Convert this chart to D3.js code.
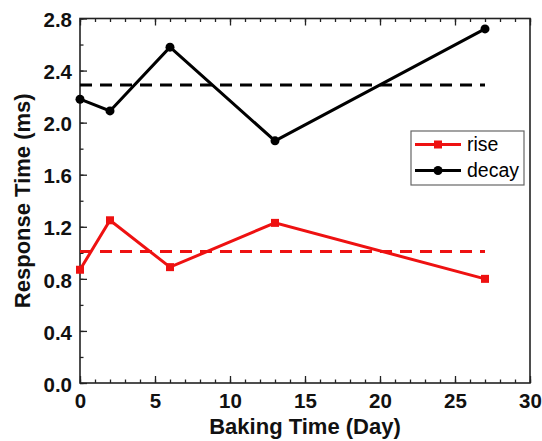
<!doctype html>
<html lang="en">
<head>
<meta charset="utf-8">
<script src="https://d3js.org/d3.v7.min.js"></script>
<style>
  body { margin: 0; background: #fff; }
  svg text { font-family: "Liberation Sans", Arial, sans-serif; }
</style>
</head>
<body>
<div id="chart"></div>
<script>
    // data
    var days = [0, 2, 6, 13, 27];
    var rise = [0.87, 1.25, 0.89, 1.23, 0.80];
    var decay = [2.18, 2.09, 2.58, 1.86, 2.72];
    var riseAvg = 1.01;
    var decayAvg = 2.29;
    var xTicks = [0, 5, 10, 15, 20, 25, 30];
    var yTicks = [0.0, 0.4, 0.8, 1.2, 1.6, 2.0, 2.4, 2.8];

    var width = 542, height = 441;
    var margin = { top: 18.5, right: 12, bottom: 58, left: 80 };
    var w = width - margin.left - margin.right,
        h = height - margin.top - margin.bottom;

    var svg = d3.select('#chart').append('svg')
        .attr('width', width).attr('height', height);
    var g = svg.append('g')
        .attr('transform', 'translate(' + margin.left + ',' + margin.top + ')');

    var x = d3.scaleLinear().domain([0, 30]).range([0, w]);
    var y = d3.scaleLinear().domain([0, 2.8]).range([h, 0]);

    // minor ticks (inward)
    var xMinor = d3.range(0, 31, 1);
    var yMinor = d3.range(0, 2.81, 0.2);

    g.append('g').attr('transform', 'translate(0,' + h + ')')
        .call(d3.axisBottom(x).tickValues(xMinor).tickSize(-3.5).tickFormat(''))
        .call(a => a.select('.domain').remove());
    g.append('g')
        .call(d3.axisTop(x).tickValues(xMinor).tickSize(-3.5).tickFormat(''))
        .call(a => a.select('.domain').remove());
    g.append('g')
        .call(d3.axisLeft(y).tickValues(yMinor).tickSize(-3.5).tickFormat(''))
        .call(a => a.select('.domain').remove());

    // major ticks + labels
    var xAxis = g.append('g').attr('transform', 'translate(0,' + h + ')')
        .call(d3.axisBottom(x).tickValues(xTicks).tickSize(-7).tickPadding(10).tickFormat(d3.format('d')));
    xAxis.select('.domain').remove();
    g.append('g')
        .call(d3.axisTop(x).tickValues(xTicks).tickSize(-7).tickFormat(''))
        .call(a => a.select('.domain').remove());
    var yAxis = g.append('g')
        .call(d3.axisLeft(y).tickValues(yTicks).tickSize(-7).tickPadding(8).tickFormat(d3.format('.1f')));
    yAxis.select('.domain').remove();

    g.selectAll('.tick line').attr('stroke', '#222').attr('stroke-width', 1.3);
    g.selectAll('.tick text')
        .attr('font-size', 20.5).attr('font-weight', 'bold').attr('fill', '#111')
        .attr('font-family', '"Liberation Sans", Arial, sans-serif');
    yAxis.selectAll('.tick text').attr('dy', '0.4em');

    // frame
    g.append('rect').attr('x', 0).attr('y', 0).attr('width', w).attr('height', h)
        .attr('fill', 'none').attr('stroke', '#222').attr('stroke-width', 1.6);

    // average dashed lines
    var avg = [[riseAvg, '#ee1111'], [decayAvg, '#000']];
    avg.forEach(function (a) {
        g.append('line')
            .attr('x1', x(0)).attr('x2', x(27))
            .attr('y1', y(a[0])).attr('y2', y(a[0]))
            .attr('stroke', a[1]).attr('stroke-width', 3)
            .attr('stroke-dasharray', '12,8');
    });

    var line = d3.line().x(d => x(d[0])).y(d => y(d[1]));
    var riseData = days.map((d, i) => [d, rise[i]]);
    var decayData = days.map((d, i) => [d, decay[i]]);

    g.append('path').datum(riseData).attr('d', line)
        .attr('fill', 'none').attr('stroke', '#ee1111').attr('stroke-width', 3);
    g.selectAll('.rsq').data(riseData).join('rect').attr('class', 'rsq')
        .attr('x', d => x(d[0]) - 4).attr('y', d => y(d[1]) - 4)
        .attr('width', 8).attr('height', 8).attr('fill', '#ee1111');

    g.append('path').datum(decayData).attr('d', line)
        .attr('fill', 'none').attr('stroke', '#000').attr('stroke-width', 3);
    g.selectAll('.dcir').data(decayData).join('circle').attr('class', 'dcir')
        .attr('cx', d => x(d[0])).attr('cy', d => y(d[1]))
        .attr('r', 4.5).attr('fill', '#000');

    // legend
    var leg = svg.append('g').attr('transform', 'translate(411,131)');
    leg.append('rect').attr('width', 113).attr('height', 54)
        .attr('fill', '#fff').attr('stroke', '#666').attr('stroke-width', 1.2);
    var items = [['rise', '#ee1111', 'sq'], ['decay', '#000', 'c']];
    items.forEach(function (it, i) {
        var yy = 13.5 + i * 26;
        leg.append('line').attr('x1', 4).attr('x2', 50).attr('y1', yy).attr('y2', yy)
            .attr('stroke', it[1]).attr('stroke-width', 3);
        if (it[2] === 'sq') {
            leg.append('rect').attr('x', 23).attr('y', yy - 4).attr('width', 8).attr('height', 8).attr('fill', it[1]);
        } else {
            leg.append('circle').attr('cx', 27).attr('cy', yy).attr('r', 4.5).attr('fill', it[1]);
        }
        leg.append('text').attr('x', 56).attr('y', yy + 6.5)
            .attr('font-size', 19.5).attr('fill', '#000').text(it[0]);
    });

    // axis titles
    svg.append('text')
        .attr('x', margin.left + w / 2).attr('y', 434)
        .attr('text-anchor', 'middle').attr('font-size', 22).attr('font-weight', 'bold')
        .attr('fill', '#111').text('Baking Time (Day)');
    svg.append('text')
        .attr('transform', 'translate(30,' + (margin.top + h / 2) + ') rotate(-90)')
        .attr('text-anchor', 'middle').attr('font-size', 22).attr('font-weight', 'bold')
        .attr('fill', '#111').text('Response Time (ms)');
</script>
</body>
</html>
